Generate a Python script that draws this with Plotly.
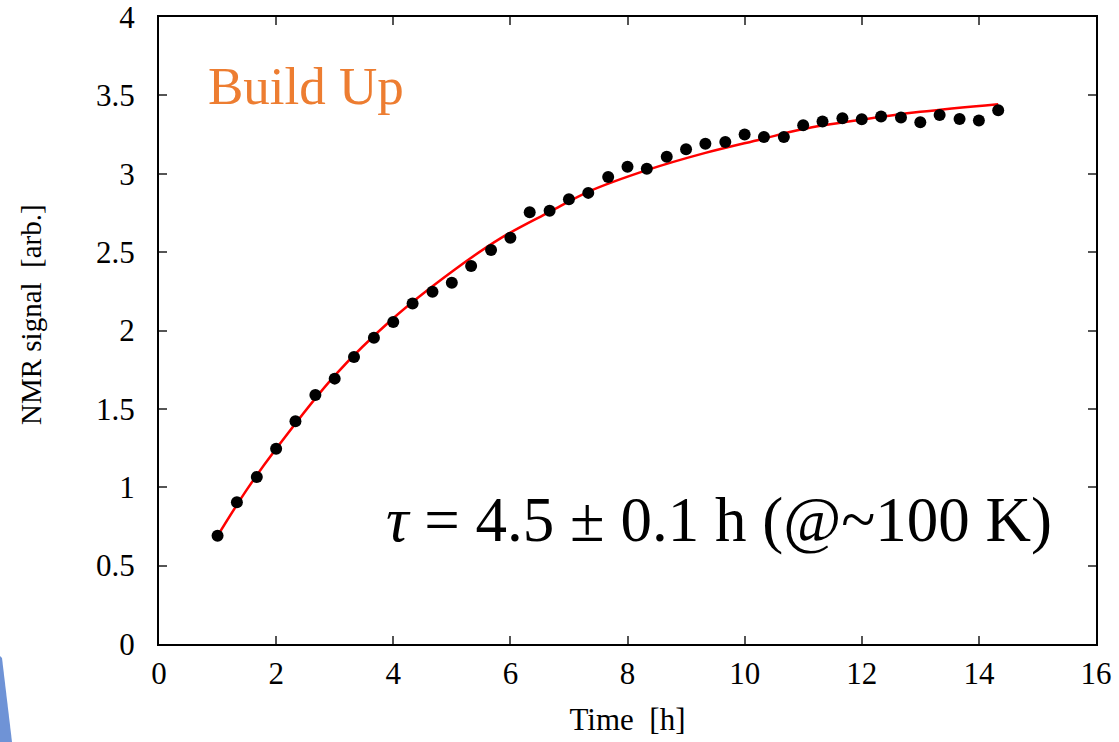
import plotly.graph_objects as go

# ---- data ----
time_h = [1.00, 1.33, 1.67, 2.00, 2.33, 2.67, 3.00, 3.33, 3.67, 4.00,
          4.33, 4.67, 5.00, 5.33, 5.67, 6.00, 6.33, 6.67, 7.00, 7.33,
          7.67, 8.00, 8.33, 8.67, 9.00, 9.33, 9.67, 10.00, 10.33, 10.67,
          11.00, 11.33, 11.67, 12.00, 12.33, 12.67, 13.00, 13.33, 13.67, 14.00,
          14.33]
nmr_signal = [0.690, 0.905, 1.066, 1.245, 1.421, 1.589, 1.693, 1.831, 1.954, 2.054,
              2.173, 2.247, 2.305, 2.411, 2.513, 2.592, 2.755, 2.764, 2.838, 2.878,
              2.980, 3.044, 3.032, 3.108, 3.157, 3.192, 3.202, 3.250, 3.235, 3.235,
              3.310, 3.333, 3.354, 3.348, 3.365, 3.359, 3.329, 3.375, 3.350, 3.340,
              3.405]

fit_time = [1.0, 1.5, 2.0, 3.0, 4.0, 5.0, 5.83, 6.67, 7.33, 8.33, 9.33, 10.27,
            11.0, 12.0, 13.0, 14.33]
fit_signal = [0.690, 0.985, 1.245, 1.712, 2.078, 2.375, 2.588, 2.757, 2.885, 3.023,
              3.133, 3.219, 3.285, 3.345, 3.395, 3.444]

x_ticks = [0, 2, 4, 6, 8, 10, 12, 14, 16]
y_ticks = [0, 0.5, 1, 1.5, 2, 2.5, 3, 3.5, 4]
y_tick_labels = ["0", "0.5", "1", "1.5", "2", "2.5", "3", "3.5", "4"]

FONT = "'Liberation Serif', 'Times New Roman', serif"
W, H = 1119, 742
ML, MR, MT, MB = 159, 23, 17, 98
pw, ph = W - ML - MR, H - MT - MB


def px(xp):
    return (xp - ML) / pw


def py(yp):
    return (H - MB - yp) / ph


fig = go.Figure()
fig.add_trace(go.Scatter(
    x=fit_time, y=fit_signal, mode="lines",
    line=dict(color="#ff0000", width=2.5, shape="spline"),
    showlegend=False, hoverinfo="skip"))
fig.add_trace(go.Scatter(
    x=time_h, y=nmr_signal, mode="markers",
    marker=dict(color="black", size=12),
    showlegend=False))

axis_common = dict(
    showline=True, linecolor="black", linewidth=2, mirror="ticks",
    ticks="inside", ticklen=8, tickwidth=1.5, tickcolor="#555555",
    showgrid=False, zeroline=False, ticklabeloverflow="allow",
    tickfont=dict(family=FONT, size=31, color="black"),
)

fig.update_layout(
    width=W, height=H,
    margin=dict(l=ML, r=MR, t=MT, b=MB, autoexpand=False),
    paper_bgcolor="white", plot_bgcolor="white",
    font=dict(family=FONT, color="black"),
    xaxis=dict(range=[0, 16], tickvals=x_ticks, ticklabelstandoff=1,
               title=dict(text="Time\u00a0 [h]", font=dict(family=FONT, size=31),
                          standoff=18),
               **axis_common),
    yaxis=dict(range=[0, 4.0001], tickvals=y_ticks, ticktext=y_tick_labels,
               ticklabelstandoff=16, **axis_common),
    annotations=[
        dict(text="NMR signal\u00a0 [arb.]", x=px(31), y=py(315), xref="paper", yref="paper",
             xanchor="center", yanchor="middle", textangle=-90, showarrow=False,
             font=dict(family=FONT, size=29, color="black")),
        dict(text="Build Up", x=0.80, y=3.56, xref="x", yref="y",
             xanchor="left", yanchor="middle", showarrow=False,
             font=dict(family=FONT, size=53, color="#ED7D31")),
        dict(text="<i>τ</i> = 4.5 ± 0.1 h (@~100 K)", x=3.84, y=0.79, xref="x", yref="y",
             xanchor="left", yanchor="middle", showarrow=False,
             font=dict(family=FONT, size=63, color="black")),
    ],
)

# decorative blue sliver at bottom-left edge of the slide
fig.add_shape(type="path", xref="paper", yref="paper",
              path=f"M {px(0)} {py(656)} L {px(2)} {py(658)} L {px(12)} {py(742)} L {px(0)} {py(742)} Z",
              fillcolor="#6f93d6", line=dict(width=0), layer="above")

fig.write_html("out.html")
